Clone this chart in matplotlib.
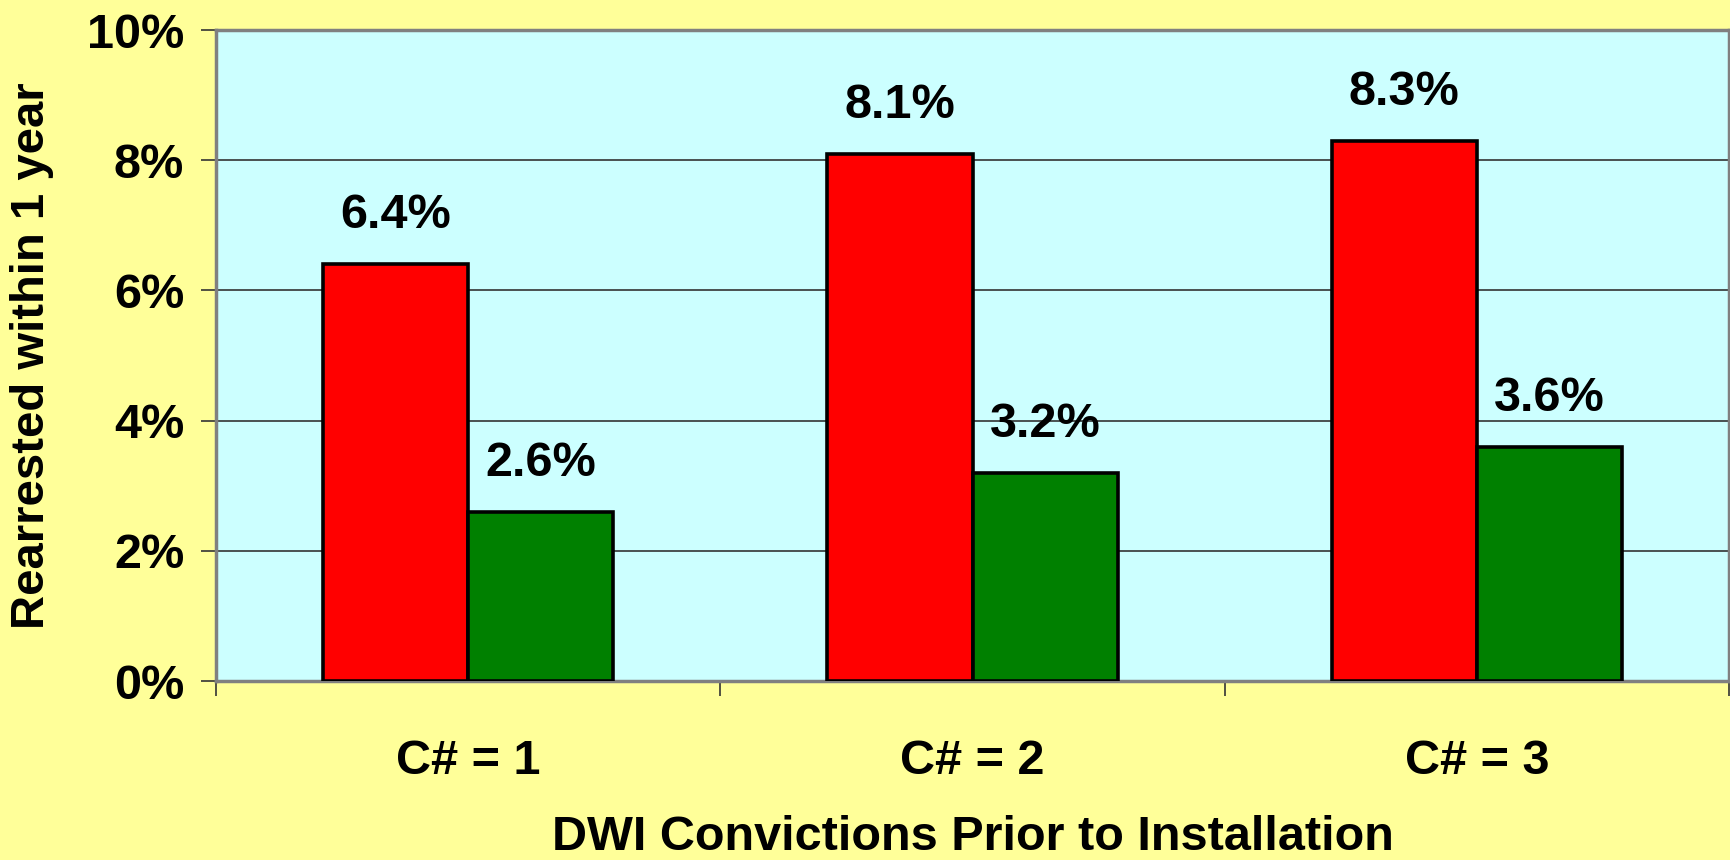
import numpy as np
import matplotlib
matplotlib.use("Agg")
import matplotlib.pyplot as plt
from matplotlib.ticker import FuncFormatter, FixedLocator

# data
categories = ["C# = 1", "C# = 2", "C# = 3"]
red_vals = [6.4, 8.1, 8.3]
green_vals = [2.6, 3.2, 3.6]

plt.rcParams["font.family"] = ["Liberation Sans", "DejaVu Sans"]
plt.rcParams["font.weight"] = "bold"

fig = plt.figure(figsize=(17.3, 8.6), dpi=100, facecolor="#FFFF99")
ax = fig.add_axes([0.1249, 0.2081, 0.8745, 0.757])
ax.set_facecolor("#CCFFFF")

x = np.arange(len(categories))
w = 0.288
b1 = ax.bar(x - w / 2, red_vals, w, color="#FF0000", edgecolor="black", linewidth=2.6, zorder=3)
b2 = ax.bar(x + w / 2, green_vals, w, color="#008000", edgecolor="black", linewidth=2.6, zorder=3)

for bars, vals in [(b1, red_vals), (b2, green_vals)]:
    for r, v in zip(bars, vals):
        ax.annotate(f"{v:.1f}%", (r.get_x() + r.get_width() / 2, v),
                    xytext=(0, 26), textcoords="offset points",
                    ha="center", va="baseline", fontsize=35, fontweight="bold")

ax.set_xlim(-0.5, 2.5)
ax.set_ylim(0, 10)
ax.set_yticks([0, 2, 4, 6, 8, 10])
ax.yaxis.set_major_formatter(FuncFormatter(lambda v, p: f"{v:.0f}%"))
ax.grid(axis="y", color="#333333", linewidth=1.2, zorder=0)

ax.set_xticks(x)
ax.set_xticklabels(categories)
ax.xaxis.set_minor_locator(FixedLocator([-0.5, 0.5, 1.5, 2.5]))
ax.tick_params(axis="x", which="major", length=0, pad=42, labelsize=35)
ax.tick_params(axis="x", which="minor", length=11, width=1.2, color="#333333")
ax.tick_params(axis="y", length=11, width=1.2, color="#333333", labelsize=35, pad=12)

for s in ax.spines.values():
    s.set_color("#808080")
    s.set_linewidth(2.5)

ax.set_ylabel("Rearrested within 1 year", fontsize=34, fontweight="bold", labelpad=24)
ax.set_xlabel("DWI Convictions Prior to Installation", fontsize=35, fontweight="bold", labelpad=22)

fig.savefig("out.png", dpi=100, facecolor=fig.get_facecolor())
